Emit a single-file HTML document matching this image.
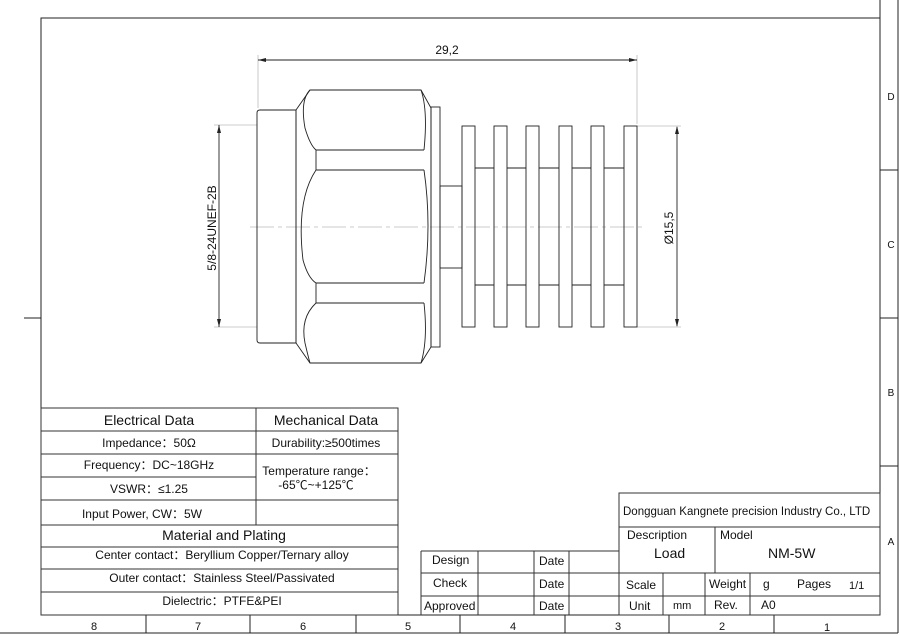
<!DOCTYPE html>
<html><head><meta charset="utf-8"><style>
body{margin:0;background:#fff}
svg{display:block}
text{font-family:"Liberation Sans","Noto Sans CJK SC",sans-serif;fill:#111}
</style></head><body>
<svg width="900" height="636" viewBox="0 0 900 636" xmlns="http://www.w3.org/2000/svg">
<g fill="none" stroke="#222" stroke-width="1">
<rect x="41" y="18" width="839" height="597"/>
<line x1="0" y1="633" x2="898" y2="633"/>
<line x1="898" y1="0" x2="898" y2="633"/>
<line x1="880" y1="0" x2="880" y2="18"/>
<line x1="880" y1="170" x2="898" y2="170"/>
<line x1="880" y1="318" x2="898" y2="318"/>
<line x1="880" y1="466" x2="898" y2="466"/>
<line x1="24" y1="318" x2="41" y2="318"/>
<line x1="146" y1="615" x2="146" y2="633"/><line x1="250" y1="615" x2="250" y2="633"/>
<line x1="356" y1="615" x2="356" y2="633"/><line x1="460" y1="615" x2="460" y2="633"/>
<line x1="565" y1="615" x2="565" y2="633"/><line x1="669" y1="615" x2="669" y2="633"/>
<line x1="774" y1="615" x2="774" y2="633"/>
</g>
<g font-size="11" text-anchor="middle">
<text x="94" y="630">8</text><text x="198" y="630">7</text><text x="303" y="630">6</text><text x="408" y="630">5</text>
<text x="513" y="630">4</text><text x="618" y="630">3</text><text x="722" y="630">2</text><text x="827" y="631">1</text>
<text x="891" y="100" font-size="10">D</text><text x="891" y="248" font-size="10">C</text><text x="891" y="396" font-size="10">B</text><text x="891" y="545" font-size="10">A</text>
</g>
<g fill="none" stroke="#bbb" stroke-width="0.8">
<line x1="250" y1="227" x2="645" y2="227" stroke-dasharray="24,4,4,4"/>
<line x1="258" y1="55" x2="258" y2="108"/><line x1="637" y1="55" x2="637" y2="124"/>
<line x1="214" y1="125" x2="257" y2="125"/><line x1="214" y1="327" x2="257" y2="327"/>
<line x1="637" y1="126" x2="681" y2="126"/><line x1="637" y1="327" x2="681" y2="327"/>
</g>
<g fill="none" stroke="#222" stroke-width="0.9">
<line x1="258" y1="60" x2="637" y2="60"/>
<line x1="219" y1="125" x2="219" y2="327"/>
<line x1="677" y1="127" x2="677" y2="326"/>
<path d="M260 110 H296 V343 H260 Q257 343 257 340 V113 Q257 110 260 110Z"/>
<path d="M296 110 L310 90 H421 L431 108 V347 L421 363 H310 L296 343Z"/>
<path d="M310 90 Q300 100 305 128 Q310 145 316 150 H424 M316 170 H424 M316 150 V170"/>
<path d="M316 170 Q296 200 303 260 Q308 278 316 283 H424 M316 303 H424 M316 283 V303"/>
<path d="M316 303 Q300 318 305 343 Q308 356 310 363"/>
<path d="M421 90 Q428 110 424 150 M424 170 Q432 225 424 283 M424 303 Q428 340 421 363"/>
<rect x="431" y="107" width="9" height="240"/>
<rect x="440" y="186" width="22" height="82"/>
<rect x="462" y="126" width="13" height="201"/>
<rect x="494" y="126" width="13" height="201"/>
<rect x="526" y="126" width="13" height="201"/>
<rect x="559" y="126" width="13" height="201"/>
<rect x="591" y="126" width="13" height="201"/>
<rect x="624" y="126" width="13" height="201"/>
<path d="M475 168H494M507 168H526M539 168H559M572 168H591M604 168H624M475 285H494M507 285H526M539 285H559M572 285H591M604 285H624"/>
</g>
<g fill="#222">
<path d="M258 60 l8 -2 v4z"/><path d="M637 60 l-8 -2 v4z"/>
<path d="M219 125 l-2 8 h4z"/><path d="M219 327 l-2 -8 h4z"/>
<path d="M677 126 l-2 8 h4z"/><path d="M677 327 l-2 -8 h4z"/>
</g>
<text x="447" y="54" font-size="12" text-anchor="middle">29,2</text>
<text transform="translate(216,228) rotate(-90)" font-size="12" text-anchor="middle">5/8-24UNEF-2B</text>
<text transform="translate(673,228) rotate(-90)" font-size="12" text-anchor="middle">Ø15,5</text>
<g fill="none" stroke="#333" stroke-width="1">
<rect x="41" y="408" width="357" height="207" fill="#fff"/>
<line x1="41" y1="431" x2="398" y2="431"/>
<line x1="41" y1="454" x2="398" y2="454"/>
<line x1="41" y1="477" x2="256" y2="477"/>
<line x1="41" y1="500" x2="398" y2="500"/>
<line x1="41" y1="525" x2="398" y2="525"/>
<line x1="41" y1="547" x2="398" y2="547"/>
<line x1="41" y1="569" x2="398" y2="569"/>
<line x1="41" y1="592" x2="398" y2="592"/>
<line x1="256" y1="408" x2="256" y2="525"/>
</g>
<g text-anchor="middle" font-size="12">
<text x="149" y="425" font-size="14">Electrical Data</text>
<text x="326" y="425" font-size="14">Mechanical Data</text>
<text x="149" y="447">Impedance：50Ω</text>
<text x="326" y="447">Durability:≥500times</text>
<text x="149" y="469">Frequency：DC~18GHz</text>
<text x="149" y="493">VSWR：≤1.25</text>
<text x="319" y="475">Temperature range：</text>
<text x="316" y="489">-65℃~+125℃</text>
<text x="142" y="518">Input Power, CW：5W</text>
<text x="224" y="540" font-size="14">Material and Plating</text>
<text x="222" y="559">Center contact：Beryllium Copper/Ternary alloy</text>
<text x="222" y="582">Outer contact：Stainless Steel/Passivated</text>
<text x="222" y="605">Dielectric：PTFE&amp;PEI</text>
</g>
<g fill="none" stroke="#333" stroke-width="1">
<rect x="619" y="493" width="261" height="122" fill="#fff"/>
<line x1="619" y1="527" x2="880" y2="527"/>
<line x1="421" y1="551" x2="619" y2="551"/>
<line x1="421" y1="551" x2="421" y2="615"/>
<line x1="421" y1="573" x2="880" y2="573"/>
<line x1="421" y1="596" x2="880" y2="596"/>
<line x1="478" y1="551" x2="478" y2="615"/>
<line x1="534" y1="551" x2="534" y2="615"/>
<line x1="569" y1="551" x2="569" y2="615"/>
<line x1="715" y1="527" x2="715" y2="573"/>
<line x1="663" y1="573" x2="663" y2="615"/>
<line x1="705" y1="573" x2="705" y2="615"/>
<line x1="750" y1="573" x2="750" y2="615"/>
</g>
<g font-size="12">
<text x="623" y="515" font-size="11.5">Dongguan Kangnete precision Industry Co., LTD</text>
<text x="627" y="539">Description</text>
<text x="720" y="539">Model</text>
<text x="654" y="558" font-size="14">Load</text>
<text x="768" y="558" font-size="14">NM-5W</text>
<text x="432" y="564">Design</text><text x="539" y="565">Date</text>
<text x="433" y="587">Check</text><text x="539" y="588">Date</text>
<text x="424" y="610">Approved</text><text x="539" y="610">Date</text>
<text x="626" y="589">Scale</text>
<text x="709" y="588">Weight</text>
<text x="763" y="588">g</text>
<text x="797" y="588">Pages</text>
<text x="849" y="589" font-size="11">1/1</text>
<text x="629" y="610">Unit</text>
<text x="673" y="609" font-size="11">mm</text>
<text x="714" y="609">Rev.</text>
<text x="761" y="609">A0</text>
</g>
</svg>
</body></html>
